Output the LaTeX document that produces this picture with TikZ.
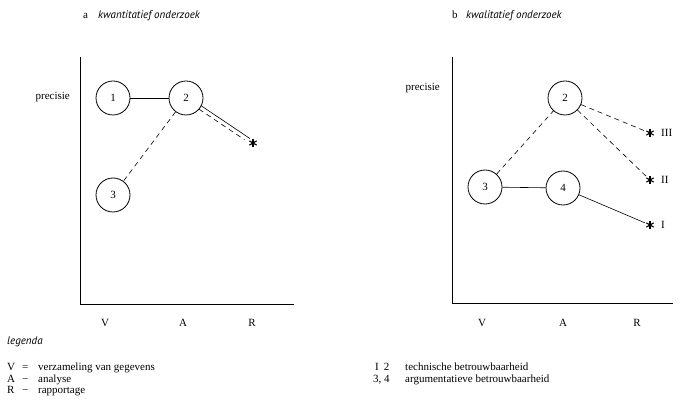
\documentclass[tikz,border=0pt]{standalone}
\usepackage{fontspec}
\usetikzlibrary{calc}
\setmainfont{Liberation Serif}
\newfontfamily\titlefont{PT Sans}
\begin{document}
\begin{tikzpicture}[x=1pt,y=-1pt,
  every node/.style={font=\fontsize{11}{11}\selectfont, inner sep=0pt},
  ttl/.style={font=\titlefont\itshape\fontsize{11}{11}\selectfont, anchor=base west},
  lbl/.style={anchor=base west},
  circ/.style={draw, circle, minimum size=34pt, inner sep=0pt, line width=0.8pt},
  axis/.style={line width=0.9pt},
  ln/.style={line width=0.6pt},
  dsh/.style={line width=0.6pt, dash pattern=on 5pt off 4pt},
  starnode/.style={circle, minimum size=11pt, inner sep=0pt,
    path picture={\foreach \a in {90,30,-30}{\draw[line width=1.1pt]
      (path picture bounding box.center) ++(\a:4.2pt) -- ++(\a+180:8.4pt);}}}]
\useasboundingbox (0,0) rectangle (684,419);
% titles
\node[lbl] (ta) at (83,19) {a};
\node[ttl] (tat) at (98,19) {kwantitatief onderzoek};
\node[lbl] (tb) at (452,19) {b};
\node[ttl] (tbt) at (466,19) {kwalitatief onderzoek};
% axes a
\coordinate (aO) at (80,304);
\coordinate (aT) at (80,57);
\coordinate (aX) at (294,304);
\draw[axis] (aT) -- (aO) -- (aX);
\node[anchor=base east] (ap) at (70,100) {precisie};
\node[anchor=base] (aV) at (105,326) {V};
\node[anchor=base] (aA) at (183,326) {A};
\node[anchor=base] (aR) at (252,326) {R};
% nodes a
\node[circ] (a1) at (113,98) {1};
\node[circ] (a2) at (186,98) {2};
\node[circ] (a3) at (113,195) {3};
\node[starnode] (as) at (253,143) {};
\draw[ln] (a1) -- (a2);
\draw[dsh] (a2) -- (a3);
\coordinate (p1) at ($(a2)!17pt!(as)$);
\coordinate (p2) at ($(as)!5pt!(a2)$);
\coordinate (p3) at ($(as)!9pt!(a2)$);
\draw[ln] ($(p1)!2pt!90:(p2)$) -- ($(p2)!2pt!-90:(p1)$);
\draw[dsh] ($(p1)!2pt!-90:(p3)$) -- ($(p3)!2pt!90:(p1)$);
% axes b
\coordinate (bO) at (452,303);
\coordinate (bT) at (452,57);
\coordinate (bX) at (673,303);
\draw[axis] (bT) -- (bO) -- (bX);
\node[anchor=base east] (bp) at (440,91) {precisie};
\node[anchor=base] (bV) at (482,326) {V};
\node[anchor=base] (bA) at (563,326) {A};
\node[anchor=base] (bR) at (637,326) {R};
% nodes b
\node[circ] (b2) at (565,98) {2};
\node[circ] (b3) at (485,187) {3};
\node[circ] (b4) at (563,188) {4};
\node[starnode] (s3) at (650,133) {};
\node[starnode] (s2) at (650,180) {};
\node[starnode] (s1) at (650,225) {};
\node[anchor=west] (r3) at (661,133) {III};
\node[anchor=west] (r2) at (661,180) {II};
\node[anchor=west] (r1) at (661,225) {I};
\draw[dsh] (b3) -- (b2);
\draw[ln] (b3) -- (b4);
\draw[dsh] (b2) -- (s3);
\draw[dsh] (b2) -- (s2);
\draw[ln] (b4) -- (s1);
% legend
\node[ttl] (leg) at (7,344) {legenda};
\node[lbl] (l1a) at (7,370) {V};
\node[lbl] (l1b) at (22,370) {=};
\node[lbl] (l1c) at (38,370) {verzameling van gegevens};
\node[lbl] (l2a) at (7,382) {A};
\node[lbl] (l2b) at (22,382) {−};
\node[lbl] (l2c) at (38,382) {analyse};
\node[lbl] (l3a) at (7,393) {R};
\node[lbl] (l3b) at (22,393) {−};
\node[lbl] (l3c) at (38,393) {rapportage};
\node[lbl] (m1a) at (375,370) {I\hspace{5pt}2};
\node[lbl] (m1c) at (405,370) {technische betrouwbaarheid};
\node[lbl] (m2a) at (373,382) {3, 4};
\node[lbl] (m2c) at (405,382) {argumentatieve betrouwbaarheid};
\end{tikzpicture}
\end{document}
